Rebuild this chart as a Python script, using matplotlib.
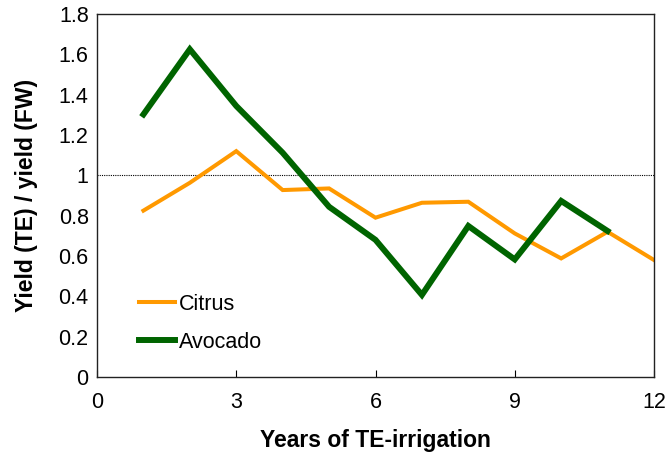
import matplotlib
matplotlib.use("Agg")
import matplotlib.pyplot as plt

plt.rcParams['font.family'] = ['Liberation Sans', 'DejaVu Sans']

years = [1, 2, 3, 4, 5, 6, 7, 8, 9, 10, 11, 12]
citrus = [0.825, 0.963, 1.12, 0.927, 0.935, 0.79, 0.864, 0.869, 0.712, 0.588, 0.72, 0.58]
avocado_years = [1, 2, 3, 4, 5, 6, 7, 8, 9, 10, 11]
avocado = [1.302, 1.625, 1.344, 1.112, 0.844, 0.68, 0.407, 0.749, 0.583, 0.873, 0.724]
xticks = [0, 3, 6, 9, 12]
yticks = [0, 0.2, 0.4, 0.6, 0.8, 1, 1.2, 1.4, 1.6, 1.8]
ytick_labels = ['0', '0.2', '0.4', '0.6', '0.8', '1', '1.2', '1.4', '1.6', '1.8']

fig = plt.figure(figsize=(6.68, 4.55), dpi=100)
ax = fig.add_axes([97/668, 1 - 377/455, (654-97)/668, (377-14)/455])

ax.axhline(1.0, color='black', lw=0.8, ls=(0, (1, 1)), zorder=1)
ax.plot(years, citrus, color='#FF9900', lw=2.9, label='Citrus', solid_joinstyle='miter', zorder=2)
ax.plot(avocado_years, avocado, color='#006400', lw=4.3, label='Avocado', solid_joinstyle='miter', zorder=3)

ax.set_xlim(0, 12)
ax.set_ylim(0, 1.8)
ax.set_xticks(xticks)
ax.set_yticks(yticks)
ax.set_yticklabels(ytick_labels)
ax.tick_params(axis='x', direction='in', length=5, width=0.8, labelsize=15.5, pad=11)
ax.tick_params(axis='y', length=0, labelsize=15.5, pad=6)
for s in ax.spines.values():
    s.set_linewidth(1.0)
    s.set_color('#222222')

ax.set_xlabel('Years of TE-irrigation', fontsize=16.5, fontweight='bold', labelpad=11)
ax.set_ylabel('Yield (TE) / yield (FW)', fontsize=16.5, fontweight='bold', labelpad=15)

ax.legend(loc='lower left', bbox_to_anchor=(0.06, 0.043), frameon=False, fontsize=15.5,
          handlelength=1.65, handletextpad=0.2, labelspacing=0.78, borderaxespad=0)

fig.savefig('out.png', dpi=100)
